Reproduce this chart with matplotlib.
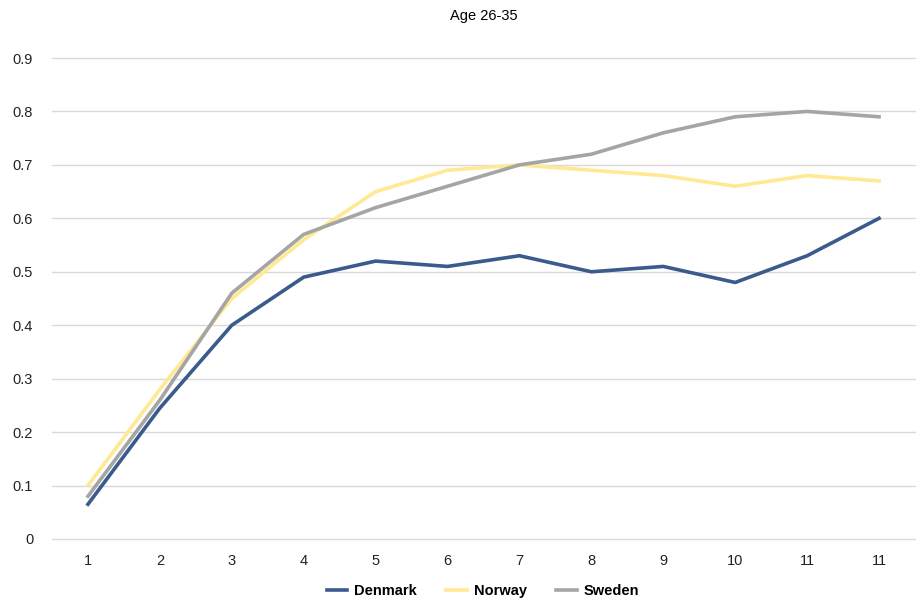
import matplotlib.pyplot as plt

# Values per period, one list per country
periods = ['1', '2', '3', '4', '5', '6', '7', '8', '9', '10', '11', '11']
denmark = [0.065, 0.245, 0.40, 0.49, 0.52, 0.51, 0.53, 0.50, 0.51, 0.48, 0.53, 0.60]
norway = [0.10, 0.28, 0.45, 0.56, 0.65, 0.69, 0.70, 0.69, 0.68, 0.66, 0.68, 0.67]
sweden = [0.08, 0.26, 0.46, 0.57, 0.62, 0.66, 0.70, 0.72, 0.76, 0.79, 0.80, 0.79]

plt.rcParams['font.family'] = ['Liberation Sans', 'DejaVu Sans']

fig = plt.figure(figsize=(9.2, 6.15), dpi=100)
ax = fig.add_axes([52 / 920, 76 / 615, 863 / 920, 481 / 615])

x = range(len(periods))
ax.plot(x, denmark, color='#3A5B8C', lw=2.6, label='Denmark', zorder=3)
ax.plot(x, norway, color='#FFE993', lw=2.6, label='Norway', zorder=3)
ax.plot(x, sweden, color='#A5A5A5', lw=2.6, label='Sweden', zorder=3)

ax.set_xlim(-0.5, len(periods) - 0.5)
ax.set_ylim(0, 0.9)
ax.set_xticks(list(x))
ax.set_xticklabels(periods)
ax.set_yticks([i / 10 for i in range(10)])
ax.set_yticklabels(['0'] + [f'{i / 10:.1f}' for i in range(1, 10)])

ax.grid(axis='y', color='#D9D9D9', lw=1)
for gl in ax.get_ygridlines():
    gl.set_clip_on(False)
ax.set_axisbelow(True)
for s in ax.spines.values():
    s.set_visible(False)
ax.tick_params(length=0, labelsize=10.5, colors='#222222')
ax.tick_params(axis='x', pad=11)
ax.tick_params(axis='y', pad=13.5)

fig.text(484 / 920, 1 - 16 / 615, 'Age 26-35', ha='center', va='center', fontsize=10.5)

leg = fig.legend(loc='center', bbox_to_anchor=(483 / 920, 1 - 591 / 615), ncol=3,
                 frameon=False, prop={'weight': 'bold', 'size': 10.5},
                 handlelength=1.4, columnspacing=2.0, handletextpad=0.5)

fig.savefig('out.png', dpi=100)
